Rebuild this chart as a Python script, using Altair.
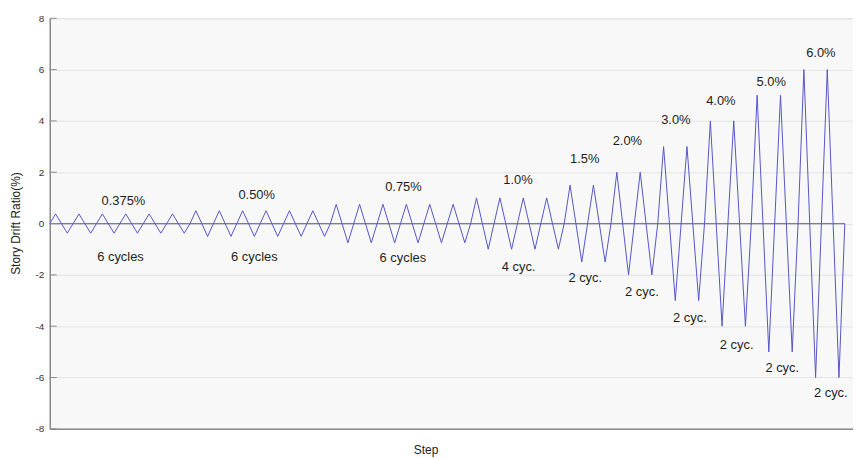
import altair as alt
import pandas as pd

# Loading protocol
amplitudes = [0.375, 0.5, 0.75, 1.0, 1.5, 2.0, 3.0, 4.0, 5.0, 6.0]
cycles = [6, 6, 6, 4, 2, 2, 2, 2, 2, 2]

# Annotation labels (text, step position, drift position)
top_texts = ["0.375%", "0.50%", "0.75%", "1.0%", "1.5%", "2.0%", "3.0%", "4.0%", "5.0%", "6.0%"]
top_x = [12.6, 35.4, 60.5, 80.1, 91.5, 98.8, 107.1, 114.8, 123.4, 131.9]
top_y = [0.87, 1.10, 1.41, 1.69, 2.50, 3.20, 4.05, 4.79, 5.52, 6.64]

bot_texts = ["6 cycles", "6 cycles", "6 cycles", "4 cyc.", "2 cyc.", "2 cyc.", "2 cyc.", "2 cyc.", "2 cyc.", "2 cyc."]
bot_x = [12.1, 35.0, 60.4, 80.2, 91.6, 101.3, 109.5, 117.5, 125.3, 133.6]
bot_y = [-1.30, -1.30, -1.34, -1.69, -2.11, -2.65, -3.70, -4.75, -5.64, -6.61]

y_ticks = [-8, -6, -4, -2, 0, 2, 4, 6, 8]

# Build the step history: each cycle goes 0 -> +a -> 0 -> -a -> 0
steps, drifts = [0], [0.0]
s = 0
for a, n in zip(amplitudes, cycles):
    for _ in range(n):
        for v in (a, 0.0, -a, 0.0):
            s += 1
            steps.append(s)
            drifts.append(v)

trace = pd.DataFrame({"step": steps, "drift": drifts, "order": list(range(len(steps)))})
zero = pd.DataFrame({"x": [0], "x2": [steps[-1]], "y": [0]})
labels = pd.DataFrame({
    "step": top_x + bot_x,
    "drift": top_y + bot_y,
    "text": top_texts + bot_texts,
})
ticks = pd.DataFrame({"y": y_ticks})

FONT = "Liberation Sans"
xscale = alt.Scale(domain=[0, 137.4], nice=False, zero=False)
yscale = alt.Scale(domain=[-8, 8], nice=False)

xaxis = alt.Axis(
    title="Step", labels=False, ticks=False, grid=False,
    domainColor="#8a8a8a", domainWidth=1.5,
    titleFont=FONT, titleFontSize=12, titleFontWeight="normal", titleColor="#222222",
    titleX=378, titleY=16, titleBaseline="top",
)
yaxis = alt.Axis(
    title="Story Drift Ratio(%)", values=y_ticks, ticks=False, grid=True,
    gridColor="#e3e3e3", gridWidth=1,
    domainColor="#8a8a8a", domainWidth=1.5,
    labelExpr="'' + datum.value",
    labelFont=FONT, labelFontSize=10, labelColor="#333333", labelPadding=6,
    titleFont=FONT, titleFontSize=12, titleFontWeight="normal", titleColor="#222222",
    titleX=-34, titleY=206, titleAlign="center", titleBaseline="middle", titleAngle=-90,
)

zero_line = alt.Chart(zero).mark_rule(color="#7a7aa8", strokeWidth=1.2).encode(
    x=alt.X("x:Q", scale=xscale, axis=xaxis),
    x2="x2:Q",
    y=alt.Y("y:Q", scale=yscale, axis=yaxis),
)

line = alt.Chart(trace).mark_line(color="#5656c8", strokeWidth=1).encode(
    x=alt.X("step:Q", scale=xscale),
    y=alt.Y("drift:Q", scale=yscale),
    order="order:Q",
)

tick_marks = alt.Chart(ticks).mark_rule(color="#8a8a8a", strokeWidth=1).encode(
    x=alt.value(0), x2=alt.value(7), y=alt.Y("y:Q", scale=yscale),
)

text = alt.Chart(labels).mark_text(
    font=FONT, fontSize=13, color="#1e1e1e", align="center", baseline="middle"
).encode(
    x=alt.X("step:Q", scale=xscale),
    y=alt.Y("drift:Q", scale=yscale),
    text="text:N",
)

chart = alt.layer(zero_line, line, tick_marks, text).properties(
    width=808, height=413,
    autosize=alt.AutoSizeParams(type="none"),
    padding={"left": 42, "top": 9, "right": 0, "bottom": 28},
    background="white",
).configure_view(fill="#f8f8f8", stroke="#e2e2e2")

chart.save("out.html", embed_options={"renderer": "svg", "actions": False})
